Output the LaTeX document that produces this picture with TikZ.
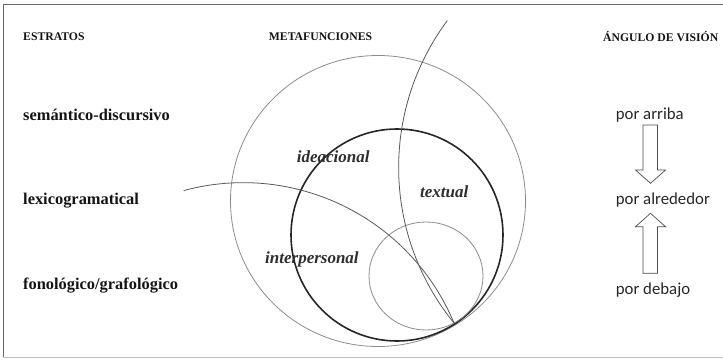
\documentclass[tikz,border=0pt]{standalone}
\usepackage{fontspec}
\setmainfont{Liberation Serif}
\newfontfamily\viewfont{Carlito}
\begin{document}
\begin{tikzpicture}[x=1pt,y=1pt,
  heading/.style={font=\fontsize{11.7}{14}\selectfont\bfseries, text=black!92, inner sep=0pt},
  stratum/.style={font=\fontsize{16.4}{19}\selectfont\bfseries, text=black!92, inner sep=0pt, anchor=west},
  func/.style={font=\fontsize{17}{20}\selectfont\bfseries\itshape, text=black!82, inner sep=0pt, anchor=west},
  view/.style={font=\viewfont\fontsize{16.8}{20}\selectfont, text=black!85, inner sep=0pt, anchor=west},
  outerring/.style={draw=black!45, line width=0.8pt},
  mainring/.style={draw=black!85, line width=1.6pt},
  innerring/.style={draw=black!45, line width=0.8pt},
  crossarc/.style={draw=black!65, line width=0.8pt},
  blockarrow/.style={draw=black!70, line width=0.7pt, fill=white, line join=miter}
]
\useasboundingbox (0,0) rectangle (723,359);

% frame
\draw[black!60, line width=1.2pt] (3.3,1.7) -- (3.3,354.5) -- (723,354.5);
\draw[black!25, line width=1pt] (3.3,1.7) -- (723,1.7);

% column headings
\node[heading, anchor=west] (hstrata) at (23,322.4) {ESTRATOS};
\node[heading] (hmeta) at (320.5,322.4) {METAFUNCIONES};
\node[heading, anchor=west] (hview) at (603,322.4) {ÁNGULO DE VISIÓN};

% strata
\node[stratum] (sem) at (23,243.6) {semántico-discursivo};
\node[stratum] (lex) at (23,158) {lexicogramatical};
\node[stratum] (fon) at (23,73) {fonológico/grafológico};

% metafunction circles and arcs
\draw[outerring] (378,158) ellipse [x radius=147.5, y radius=145.5];
\draw[mainring] (397,124) circle [radius=106];
\draw[innerring] (426,83) ellipse [x radius=57, y radius=54];
\coordinate (T) at (454,36);
\draw[crossarc] (T) arc[start angle=219.2, end angle=143.3, radius=246];
\draw[crossarc] (T) arc[start angle=22.7, end angle=105.1, radius=228.5];

\node[func] (idea) at (296.7,202.3) {ideacional};
\node[func] (text) at (420,167.3) {textual};
\node[func] (inter) at (265,99.7) {interpersonal};

% angle of vision
\node[view] (arriba) at (615.7,244) {por arriba};
\node[view] (alred) at (615.7,159) {por alrededor};
\node[view] (debajo) at (615.7,69) {por debajo};

\draw[blockarrow] (643,234) -- (657.5,234) -- (657.5,189) -- (665.5,189)
  -- (650.5,175.7) -- (635.5,189) -- (643,189) -- cycle;
\draw[blockarrow] (643,85.7) -- (657.5,85.7) -- (657.5,132.3) -- (665.5,132.3)
  -- (650.5,145.7) -- (635.5,132.3) -- (643,132.3) -- cycle;
\end{tikzpicture}
\end{document}
